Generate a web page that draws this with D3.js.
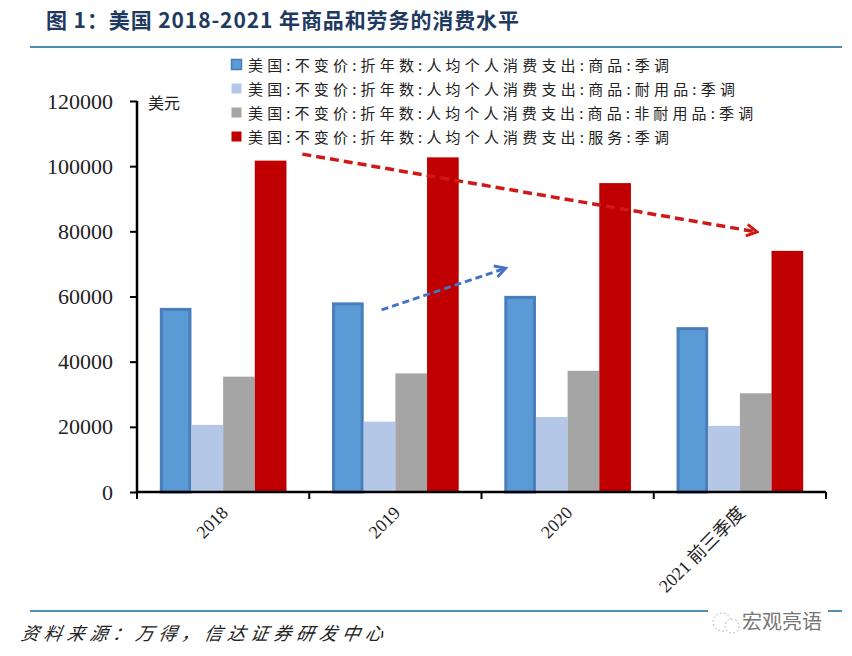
<!DOCTYPE html>
<html>
<head>
<meta charset="utf-8">
<script src="https://cdn.jsdelivr.net/npm/d3@7"></script>
<style>
  body { margin: 0; background: #fff; }
  svg { display: block; }
</style>
</head>
<body>
<div id="chart"></div>
<script>
const categories = ["2018", "2019", "2020", "2021 前三季度"];
const seriesNames = [
  "美国:不变价:折年数:人均个人消费支出:商品:季调",
  "美国:不变价:折年数:人均个人消费支出:商品:耐用品:季调",
  "美国:不变价:折年数:人均个人消费支出:商品:非耐用品:季调",
  "美国:不变价:折年数:人均个人消费支出:服务:季调",
];
const goodsValues = [56500, 58200, 60200, 50600];
const durableValues = [20600, 21600, 23000, 20300];
const nondurableValues = [35400, 36400, 37200, 30300];
const servicesValues = [101700, 102700, 94800, 74000];
const yTicks = [0, 20000, 40000, 60000, 80000, 100000, 120000];

// annotation arrows: [category, offset inside band (0..1), value]
const redArrow = [["2018", 0.96, 103700], ["2021 前三季度", 0.6, 79800]];
const blueArrow = [["2019", 0.42, 55900], ["2020", 0.14, 68700]];

const WIDTH = 852;
const HEIGHT = 656;
const PLOT_LEFT = 137;
const PLOT_RIGHT = 826;
const PLOT_TOP = 101;
const PLOT_BOTTOM = 492;
const FILLS = ["#5b9bd5", "#b4c7e7", "#a5a5a5", "#c00000"];
const BLUE_STROKE = "#4a7ebb";
const SERIF = "'Liberation Serif', 'Times New Roman', 'Noto Sans CJK SC', serif";
const CJK = "'Noto Sans CJK SC', sans-serif";

const seriesValues = [goodsValues, durableValues, nondurableValues, servicesValues];

const svg = d3.select("#chart")
  .append("svg")
  .attr("width", WIDTH)
  .attr("height", HEIGHT)
  .attr("viewBox", [0, 0, WIDTH, HEIGHT]);

svg.append("rect").attr("width", WIDTH).attr("height", HEIGHT).attr("fill", "#fff");

// title + rules
svg.append("text")
  .attr("x", 46)
  .attr("y", 28)
  .attr("font-family", CJK)
  .attr("font-weight", "bold")
  .attr("font-size", 21)
  .attr("fill", "#1f3a60")
  .attr("textLength", 473)
  .attr("lengthAdjust", "spacing")
  .text("图 1：美国 2018-2021 年商品和劳务的消费水平");

svg.append("line")
  .attr("x1", 30).attr("x2", 842)
  .attr("y1", 47).attr("y2", 47)
  .attr("stroke", "#4f8db5")
  .attr("stroke-width", 2);

svg.append("line")
  .attr("x1", 30).attr("x2", 842)
  .attr("y1", 611).attr("y2", 611)
  .attr("stroke", "#4f8db5")
  .attr("stroke-width", 2);

svg.append("text")
  .attr("x", 21)
  .attr("y", 640)
  .attr("font-family", CJK)
  .attr("font-style", "italic")
  .attr("font-size", 18)
  .attr("fill", "#222")
  .attr("transform", "skewX(-10) translate(112,0)")
  .attr("textLength", 362)
  .attr("lengthAdjust", "spacing")
  .text("资料来源：万得，信达证券研发中心");

// watermark
const wm = svg.append("g").attr("transform", "translate(712,622)");
wm.append("rect").attr("x", -4).attr("y", -14).attr("width", 120).attr("height", 28).attr("fill", "#fff");
wm.append("circle").attr("cx", 10).attr("cy", 0).attr("r", 9)
  .attr("fill", "none").attr("stroke", "#bbb").attr("stroke-dasharray", "2,2");
wm.append("circle").attr("cx", 20).attr("cy", 4).attr("r", 7)
  .attr("fill", "#fff").attr("stroke", "#bbb").attr("stroke-dasharray", "2,2");
wm.append("text")
  .attr("x", 30).attr("y", 7)
  .attr("font-family", CJK)
  .attr("font-size", 20)
  .attr("fill", "#777")
  .text("宏观亮语");

// scales
const x0 = d3.scaleBand()
  .domain(categories)
  .range([PLOT_LEFT, PLOT_RIGHT])
  .padding(0);

const x1 = d3.scaleBand()
  .domain(d3.range(seriesNames.length))
  .range([0, x0.bandwidth()])
  .paddingInner(0)
  .paddingOuter(0.72);

const y = d3.scaleLinear()
  .domain([0, 120000])
  .range([PLOT_BOTTOM, PLOT_TOP]);

// bars
const groups = svg.append("g")
  .selectAll("g")
  .data(categories)
  .join("g")
  .attr("transform", (d) => `translate(${x0(d)},0)`);

groups.selectAll("rect")
  .data((d, ci) => seriesValues.map((vals, si) => ({ si, value: vals[ci] })))
  .join("rect")
  .attr("x", (d) => x1(d.si) + (d.si === 0 ? 1.5 : 0))
  .attr("y", (d) => y(d.value) + (d.si === 0 ? 1.5 : 0))
  .attr("width", (d) => x1.bandwidth() - (d.si === 0 ? 3 : 0))
  .attr("height", (d) => y(0) - y(d.value) - (d.si === 0 ? 1.5 : 0))
  .attr("fill", (d) => FILLS[d.si])
  .attr("stroke", (d) => (d.si === 0 ? BLUE_STROKE : "none"))
  .attr("stroke-width", 3);

// axes
const yAxis = svg.append("g")
  .attr("transform", `translate(${PLOT_LEFT},0)`)
  .call(d3.axisLeft(y).tickValues(yTicks).tickSize(7).tickPadding(17).tickFormat(d3.format("d")));
yAxis.select(".domain").attr("stroke", "#000").attr("stroke-width", 2.5).attr("d", `M0,${PLOT_TOP}V${PLOT_BOTTOM}`);
yAxis.selectAll(".tick line").attr("stroke", "#000").attr("stroke-width", 2);
yAxis.selectAll(".tick text")
  .attr("font-family", SERIF)
  .attr("font-size", 22)
  .attr("fill", "#222");

const xAxis = svg.append("g")
  .attr("transform", `translate(0,${PLOT_BOTTOM})`)
  .call(d3.axisBottom(x0).tickSize(0).tickPadding(0));
xAxis.select(".domain").attr("stroke", "#000").attr("stroke-width", 2.5).attr("d", `M${PLOT_LEFT},0H${PLOT_RIGHT}`);
xAxis.selectAll(".tick text")
  .attr("font-family", SERIF)
  .attr("font-size", 18)
  .attr("fill", "#222")
  .attr("text-anchor", "end")
  .attr("dy", 0)
  .attr("transform", "translate(6,22) rotate(-45)");

xAxis.selectAll(".edge")
  .data([...categories.map((c) => x0(c)), PLOT_RIGHT])
  .join("line")
  .attr("class", "edge")
  .attr("x1", (d) => d).attr("x2", (d) => d)
  .attr("y1", 0).attr("y2", 7)
  .attr("stroke", "#000")
  .attr("stroke-width", 2);

svg.append("text")
  .attr("x", 148)
  .attr("y", 109)
  .attr("font-family", CJK)
  .attr("font-size", 16)
  .attr("fill", "#222")
  .text("美元");

// legend
const legend = svg.append("g").attr("transform", "translate(231,65)");
const legendRows = legend.selectAll("g")
  .data(seriesNames)
  .join("g")
  .attr("transform", (d, i) => `translate(0,${i * 24})`);

legendRows.append("rect")
  .attr("x", 0.5).attr("y", -5.5)
  .attr("width", 10).attr("height", 10)
  .attr("fill", (d, i) => FILLS[i])
  .attr("stroke", (d, i) => (i === 0 ? BLUE_STROKE : "none"))
  .attr("stroke-width", 1.5);

legendRows.append("text")
  .attr("x", 17)
  .attr("y", 6)
  .attr("font-family", CJK)
  .attr("font-size", 15)
  .attr("fill", "#222")
  .attr("textLength", (d) => {
    const colons = (d.match(/:/g) || []).length;
    return (d.length - colons) * 18.3 + colons * 11;
  })
  .attr("lengthAdjust", "spacing")
  .text((d) => d);

// arrows
const defs = svg.append("defs");
function addMarker(id, color) {
  defs.append("marker")
    .attr("id", id)
    .attr("viewBox", "0 0 12 12")
    .attr("refX", 10)
    .attr("refY", 6)
    .attr("markerWidth", 14)
    .attr("markerHeight", 14)
    .attr("markerUnits", "userSpaceOnUse")
    .attr("orient", "auto")
    .append("path")
    .attr("d", "M1,1 L10,6 L1,11")
    .attr("fill", "none")
    .attr("stroke", color)
    .attr("stroke-width", 2.5);
}
addMarker("arrow-red", "#d01818");
addMarker("arrow-blue", "#4472c4");

const arrowX = (p) => x0(p[0]) + p[1] * x0.bandwidth();

svg.append("line")
  .attr("x1", arrowX(redArrow[0])).attr("y1", y(redArrow[0][2]))
  .attr("x2", arrowX(redArrow[1])).attr("y2", y(redArrow[1][2]))
  .attr("stroke", "#d01818")
  .attr("stroke-width", 3.5)
  .attr("stroke-dasharray", "9,5")
  .attr("marker-end", "url(#arrow-red)");

svg.append("line")
  .attr("x1", arrowX(blueArrow[0])).attr("y1", y(blueArrow[0][2]))
  .attr("x2", arrowX(blueArrow[1])).attr("y2", y(blueArrow[1][2]))
  .attr("stroke", "#4472c4")
  .attr("stroke-width", 3)
  .attr("stroke-dasharray", "7,4")
  .attr("marker-end", "url(#arrow-blue)");
</script>
</body>
</html>
